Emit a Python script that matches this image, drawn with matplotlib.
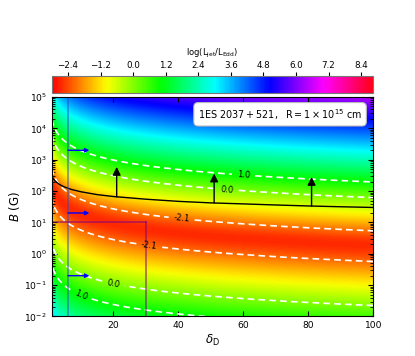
import numpy as np
import matplotlib
matplotlib.use("Agg")
import matplotlib.pyplot as plt
from matplotlib.colors import Normalize

# ---- data ----
# luminosity-map model parameters (read from contour positions)
logA_B = -7.58      # log L_B = logA_B + 2 logB + 2 log(delta)
logC_e = 0.525      # log L_e = logC_e - 1.5 logB - 1.5 log(delta)
slope_e = 1.5
contour_levels = [-2.1, 0.0, 1.0]
cbar_ticks = [-2.4, -1.2, 0.0, 1.2, 2.4, 3.6, 4.8, 6.0, 7.2, 8.4]
cbar_ticklabels = ['\u22122.4', '\u22121.2', '0.0', '1.2', '2.4', '3.6', '4.8', '6.0', '7.2', '8.4']
cbar_min, cbar_max = -3.0, 8.85

# black constraint line
line_delta = [1, 1.5, 2, 3, 4, 5, 7, 10, 15, 20, 30, 40, 50, 60, 70, 80, 90, 100]
line_B = [300, 245, 212, 173, 150, 134, 113, 95, 77, 67, 55, 47, 42, 39, 36, 33.5, 31.6, 30]

# black upward arrows
arrow_delta = [21, 51, 81]
arrow_B_base = [65, 42, 33]
arrow_B_tip = [590, 363, 282]

# blue vertical limit and right-pointing arrows
vline_delta = 6.0
blue_arrow_B = [2000, 20, 0.2]
blue_arrow_end = 12.6

# purple box
box_delta = 30
box_B = 10

# contour label positions
label_pos = [(60, 10**2.51), (55, 10**2.05), (41, 10**1.12),
             (31, 10**0.24), (20, 10**-0.95), (10, 10**-1.29)]

# ---- field ----
d = np.linspace(1, 100, 400)
b = np.logspace(-2, 5, 400)
D, Bg = np.meshgrid(d, b)
LB = logA_B + 2 * np.log10(Bg) + 2 * np.log10(D)
Le = logC_e - slope_e * np.log10(Bg) - slope_e * np.log10(D)
L = np.log10(10**LB + 10**Le)

fig = plt.figure(figsize=(4.15, 3.56), dpi=100)
ax = fig.add_axes([0.1246, 0.111, 0.7749, 0.6165])
cax = fig.add_axes([0.1246, 0.7396, 0.7749, 0.047])

norm = Normalize(cbar_min, cbar_max)
pm = ax.pcolormesh(D, Bg, L, cmap='hsv', norm=norm, shading='gouraud', rasterized=True)
ax.set_yscale('log')
ax.set_xlim(1, 100)
ax.set_ylim(1e-2, 1e5)

cs = ax.contour(D, Bg, L, levels=contour_levels, colors='white',
                linestyles='dashed', linewidths=1.2)
try:
    cs.set_dashes([(0, (4, 2.5))])
except Exception:
    pass
ax.clabel(cs, fmt='%1.1f', fontsize=6, colors='black', manual=label_pos, inline=True)

ax.plot(line_delta, line_B, color='black', lw=1.0)

for dx, b0, b1 in zip(arrow_delta, arrow_B_base, arrow_B_tip):
    ax.annotate('', xy=(dx, b1), xytext=(dx, b0),
                arrowprops=dict(arrowstyle='-|>', color='black', lw=1.0,
                                mutation_scale=12, shrinkA=0, shrinkB=0))

ax.axvline(vline_delta, color='#3050c0', alpha=0.6, lw=1.2)
for bb in blue_arrow_B:
    ax.annotate('', xy=(blue_arrow_end, bb), xytext=(vline_delta, bb),
                arrowprops=dict(arrowstyle='-|>', color='blue', lw=1.0,
                                mutation_scale=6, shrinkA=0, shrinkB=0))

ax.plot([1, box_delta], [box_B, box_B], color='purple', alpha=0.6, lw=1.2)
ax.plot([box_delta, box_delta], [1e-2, box_B], color='purple', alpha=0.6, lw=1.2)

ax.text(0.965, 0.955, r'$\rm 1ES\ 2037+521,\ \ R=1\times10^{15}\ cm$',
        transform=ax.transAxes, ha='right', va='top', fontsize=6.9,
        bbox=dict(boxstyle='round,pad=0.45', fc='white', ec='#bbbbbb', lw=0.8))

ax.set_xticks([20, 40, 60, 80, 100])
ax.tick_params(which='both', direction='in', top=True, right=True, labelsize=6.6)
ax.tick_params(which='major', length=3.5)
ax.tick_params(which='minor', length=2)
ax.set_xlabel(r'$\delta_{\rm D}$', fontsize=8.5, labelpad=2)
ax.set_ylabel(r'$B$ (G)', fontsize=8.5, labelpad=2)

cb = fig.colorbar(pm, cax=cax, orientation='horizontal', ticks=cbar_ticks)
cb.ax.xaxis.set_ticks_position('top')
cb.ax.xaxis.set_label_position('top')
cb.ax.tick_params(labelsize=6.3, length=3, pad=1.5)
cb.set_label(r'$\mathrm{log(L_{jet}/L_{Edd})}$', fontsize=6, labelpad=4)
cb.ax.set_xticklabels(cbar_ticklabels)
cb.outline.set_edgecolor('#777777')

fig.savefig('out.png', dpi=100)
